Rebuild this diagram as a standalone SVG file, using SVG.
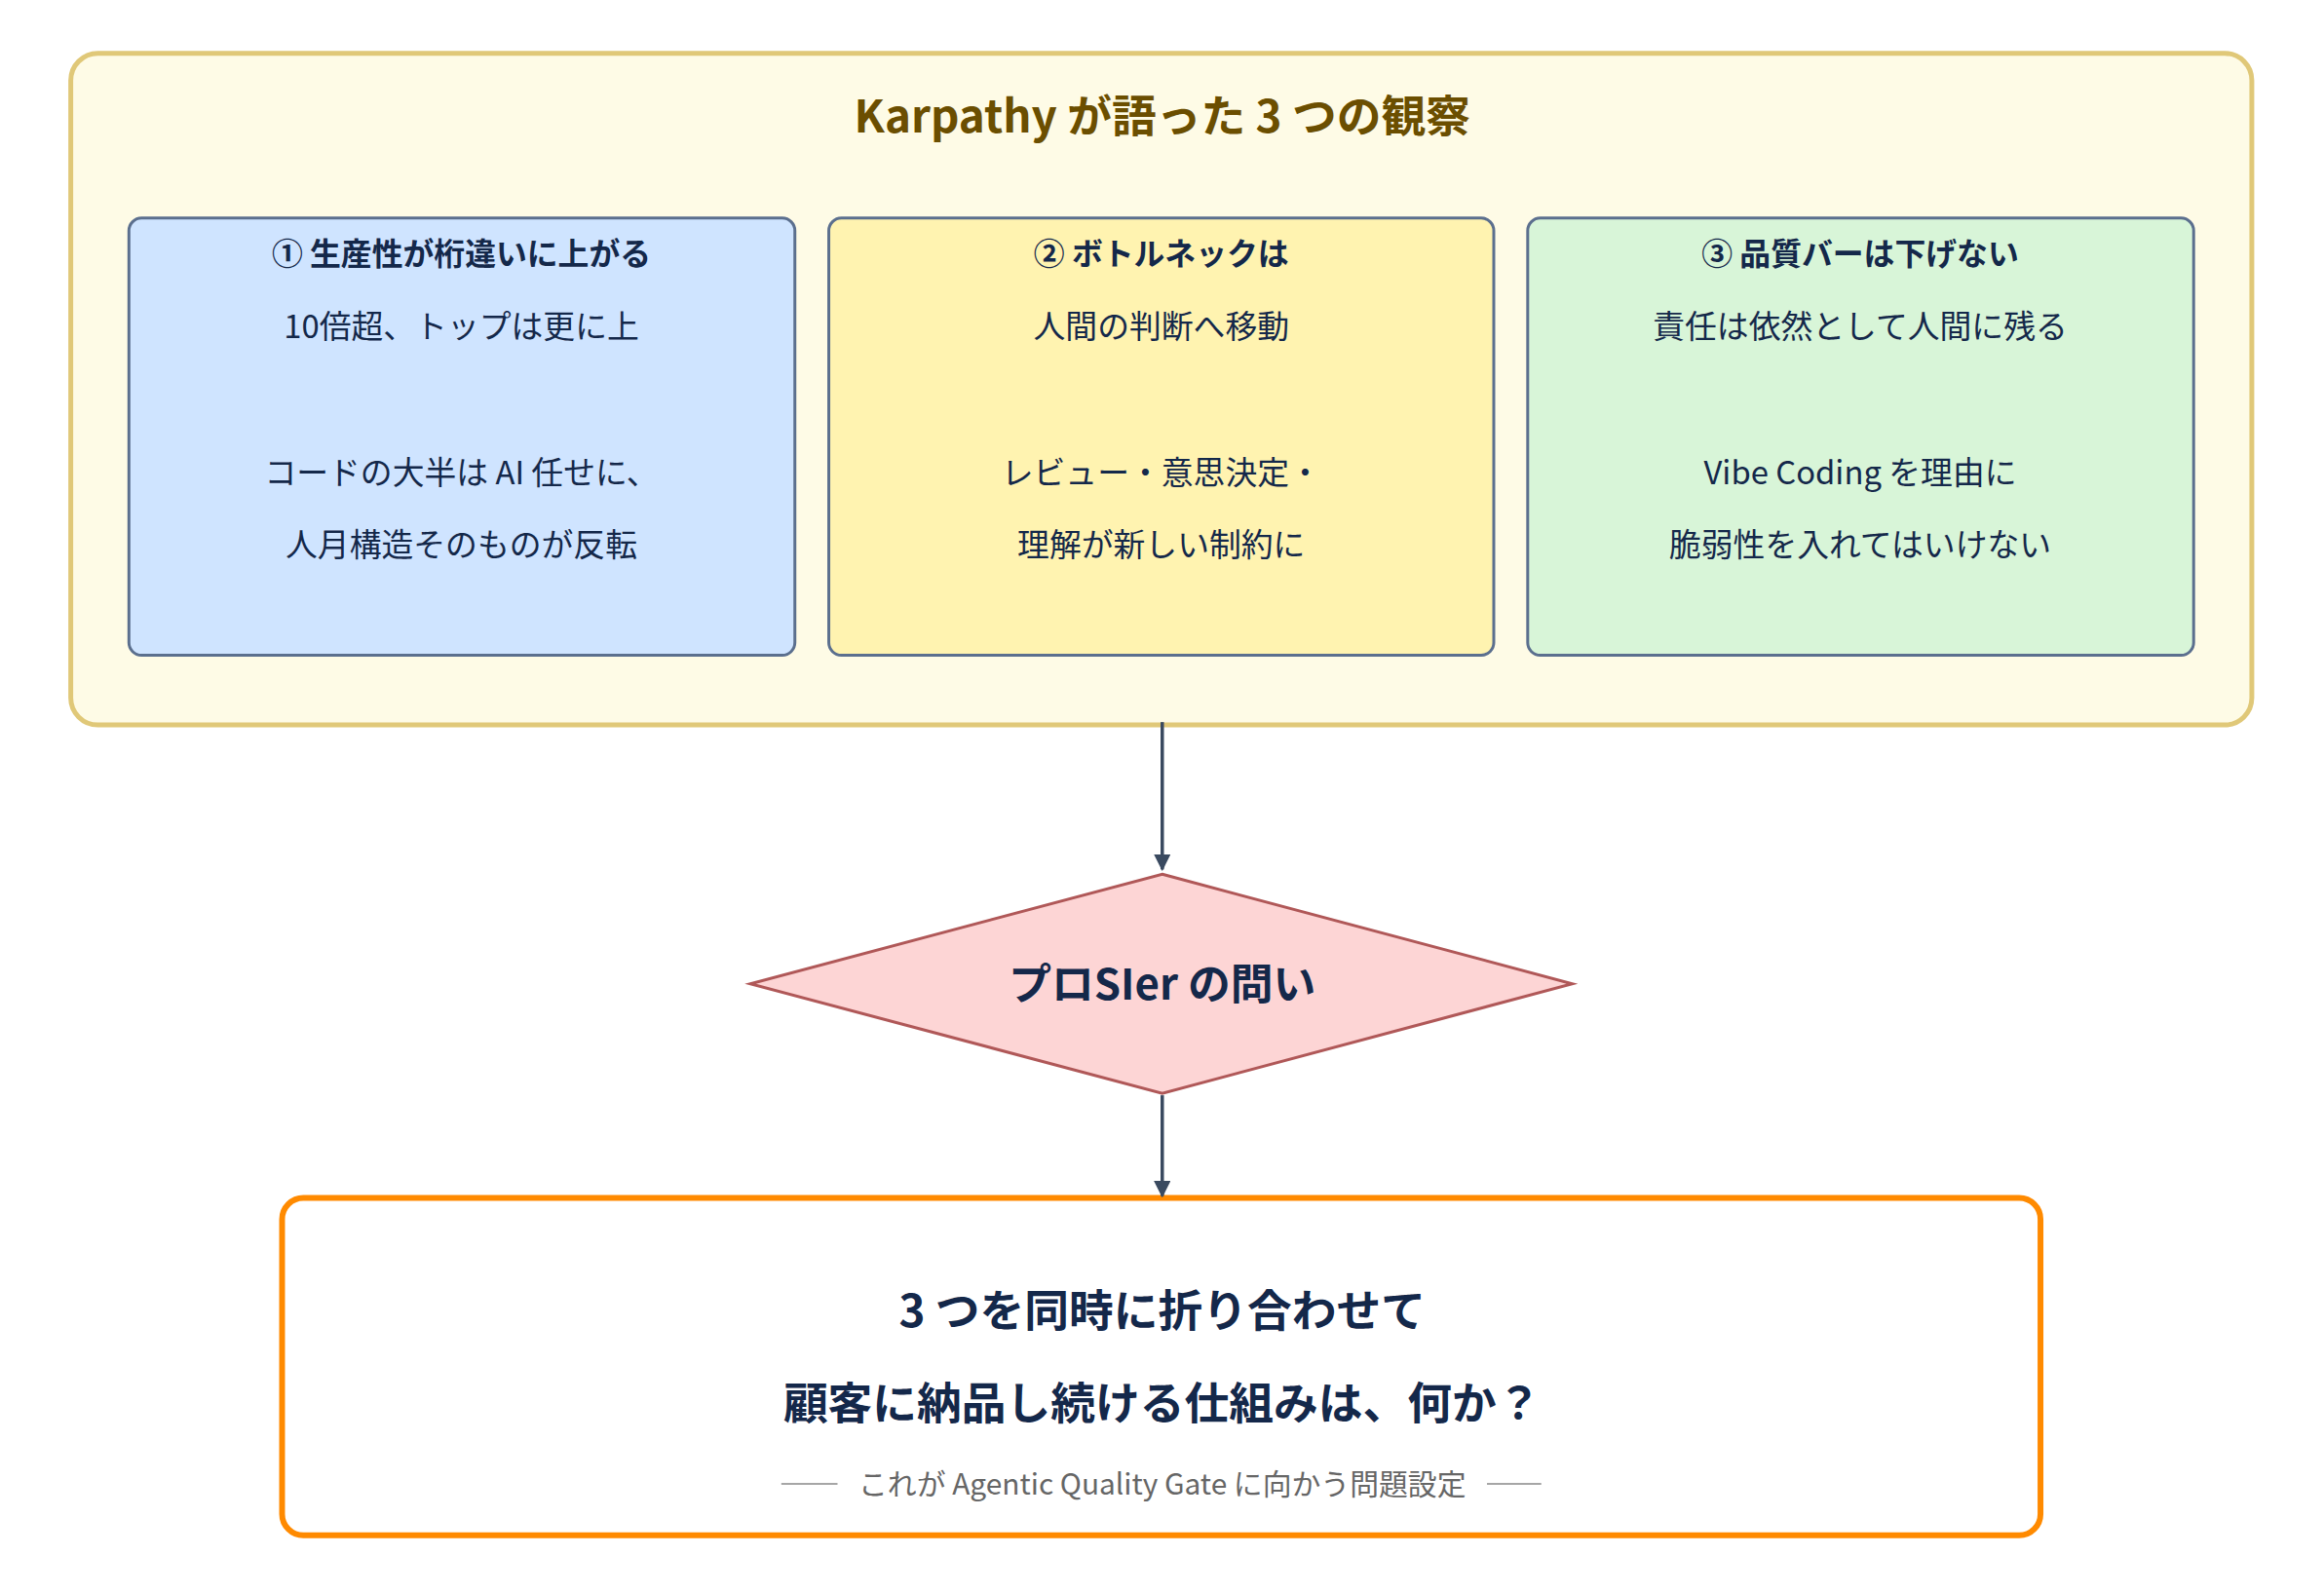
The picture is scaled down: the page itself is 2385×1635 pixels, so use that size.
<svg xmlns="http://www.w3.org/2000/svg" width="2385" height="1635" viewBox="0 0 2385 1635">
<style>
text{font-family:"Noto Sans CJK JP","Noto Sans",sans-serif;text-anchor:middle;dominant-baseline:central;fill:#14284a}
.card{stroke:#5b6f8e;stroke-width:3}
.h{font-size:32px;font-weight:700}
.b{font-size:33px}
.conn{stroke:#3a4a60;stroke-width:3.5;fill:none}
</style>
<defs><marker id="ah" viewBox="0 0 10 10" refX="9" refY="5" markerWidth="5" markerHeight="5" orient="auto"><path d="M0,0L10,5L0,10z" fill="#3a4a60"/></marker></defs>
<rect width="2385" height="1635" fill="#fff"/>
<g transform="scale(0.9948)">
<g id="container">
<rect x="73" y="55" width="2250" height="693" rx="28" fill="#fefbe6" stroke="#e0c878" stroke-width="5"/>
<text x="1199" y="117" style="font-size:46px;font-weight:700;fill:#6b4e00">Karpathy が語った 3 つの観察</text>
</g>
<g id="card1">
<rect class="card" x="133" y="225" width="687" height="451" rx="13" fill="#cfe4ff"/>
<text class="h" x="476" y="259">① 生産性が桁違いに上がる</text>
<text class="b" x="476" y="334">10倍超、トップは更に上</text>
<text class="b" x="476" y="485">コードの大半は AI 任せに、</text>
<text class="b" x="476" y="559">人月構造そのものが反転</text>
</g>
<g id="card2">
<rect class="card" x="855" y="225" width="686" height="451" rx="13" fill="#fff3b0"/>
<text class="h" x="1198" y="259">② ボトルネックは</text>
<text class="b" x="1198" y="334">人間の判断へ移動</text>
<text class="b" x="1198" y="485">レビュー・意思決定・</text>
<text class="b" x="1198" y="559">理解が新しい制約に</text>
</g>
<g id="card3">
<rect class="card" x="1576" y="225" width="687" height="451" rx="13" fill="#d8f5d8"/>
<text class="h" x="1919" y="259">③ 品質バーは下げない</text>
<text class="b" x="1919" y="334">責任は依然として人間に残る</text>
<text class="b" x="1919" y="485">Vibe Coding を理由に</text>
<text class="b" x="1919" y="559">脆弱性を入れてはいけない</text>
</g>
<g id="question">
<polygon points="1199,902 1622,1015 1199,1128 774,1015" fill="#fdd5d5" stroke="#b05858" stroke-width="3"/>
<text x="1199" y="1012" style="font-size:44px;font-weight:700">プロSIer の問い</text>
</g>
<g id="result">
<rect x="291" y="1236" width="1814" height="348" rx="22" fill="#fff" stroke="#ff8a00" stroke-width="6"/>
<text x="1199" y="1349" style="font-size:46px;font-weight:700">3 つを同時に折り合わせて</text>
<text x="1199" y="1445" style="font-size:46px;font-weight:700">顧客に納品し続ける仕組みは、何か？</text>
<text x="1199" y="1529" style="font-size:30px;fill:#666">これが Agentic Quality Gate に向かう問題設定</text>
<line x1="806" y1="1531" x2="864" y2="1531" stroke="#888" stroke-width="1.5"/>
<line x1="1534" y1="1531" x2="1590" y2="1531" stroke="#888" stroke-width="1.5"/>
</g>
<g id="connectors">
<line class="conn" x1="1199" y1="745" x2="1199" y2="897" marker-end="url(#ah)"/>
<line class="conn" x1="1199" y1="1130" x2="1199" y2="1234" marker-end="url(#ah)"/>
</g>
</g>
</svg>
